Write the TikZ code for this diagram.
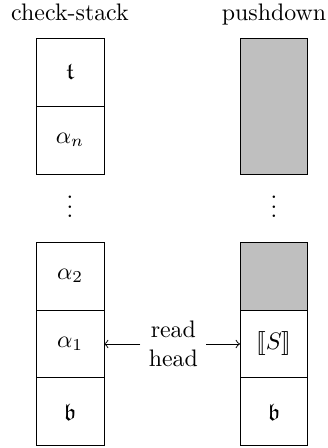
\documentclass[tikz,border=0pt]{standalone}
\usepackage{amssymb}
\usepackage{stmaryrd}
\begin{document}
\begin{tikzpicture}[
  cell/.style={draw, minimum width=1cm, minimum height=1cm, inner sep=0pt, outer sep=0pt},
  filled/.style={cell, fill=gray!50},
  title/.style={anchor=base, inner sep=0pt},
  headlbl/.style={align=center}
]
\useasboundingbox (-0.53,-0.03) rectangle (4.29,6.56);

% check-stack column
\node[title] (cstitle) at (0.5,6.26) {check-stack};
\node[cell] (ct) at (0.5,5.5) {$\mathfrak{t}$};
\node[cell] (can) at (0.5,4.5) {$\alpha_n$};
\node (cdots) at (0.5,3.62) {$\vdots$};
\node[cell] (ca2) at (0.5,2.5) {$\alpha_2$};
\node[cell] (ca1) at (0.5,1.5) {$\alpha_1$};
\node[cell] (cb) at (0.5,0.5) {$\mathfrak{b}$};

% pushdown column
\node[title] (pdtitle) at (3.5,6.26) {pushdown};
\node[filled, minimum height=2cm] (ptop) at (3.5,5) {};
\node (pdots) at (3.5,3.62) {$\vdots$};
\node[filled] (pmid) at (3.5,2.5) {};
\node[cell] (ps) at (3.5,1.5) {$\llbracket S\rrbracket$};
\node[cell] (pb) at (3.5,0.5) {$\mathfrak{b}$};

% read head
\node[headlbl] (rh) at (2.02,1.5) {read\\head};
\draw[->] (rh) -- (ca1.east);
\draw[->] (rh) -- (ps.west);
\end{tikzpicture}
\end{document}
